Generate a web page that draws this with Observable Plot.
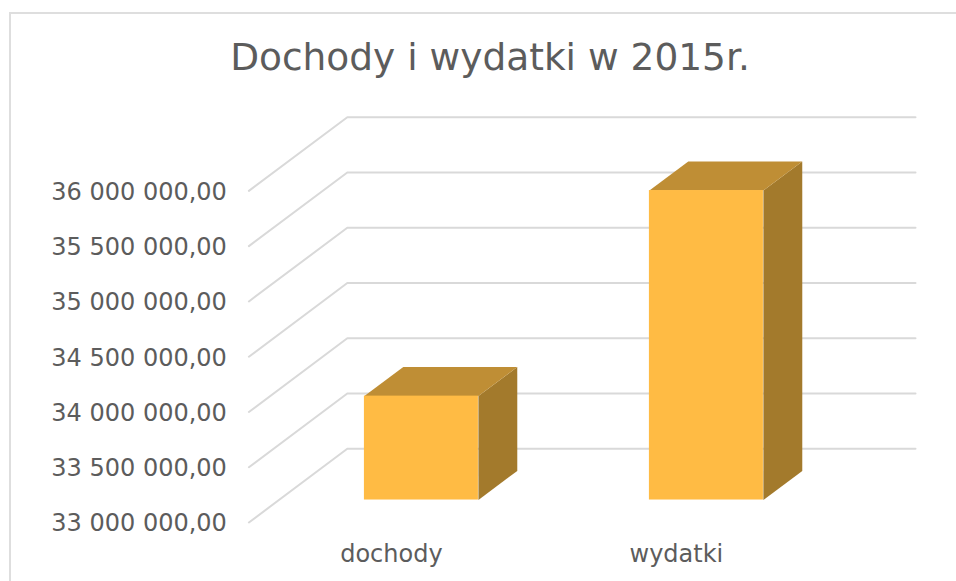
<!DOCTYPE html>
<html lang="pl">
<head>
<meta charset="utf-8">
<script src="https://cdn.jsdelivr.net/npm/d3@7"></script>
<script src="https://cdn.jsdelivr.net/npm/@observablehq/plot@0.6"></script>
<style>
  html, body { margin: 0; padding: 0; background: #fff; overflow: hidden; width: 956px; height: 581px; }
  #frame { position: absolute; left: 8.5px; top: 12px; right: 0; bottom: 0; border-top: 2px solid #dedede; border-left: 2px solid #dedede; }
  #title { position: absolute; left: 0; top: 0; width: 980px; height: 90px; text-align: center; font: 37.5px "DejaVu Sans", sans-serif; line-height: 114px; color: #5c5c5c; }
  #chart { position: absolute; left: 0; top: 90px; }
  #chart svg { display: block; }
</style>
</head>
<body>
<div id="frame"></div>
<div id="title">Dochody i wydatki w 2015r.</div>
<div id="chart"></div>
<script>
const categories = ["dochody", "wydatki"];
const values = [33940000, 35800000];
const tickValues = [33000000, 33500000, 34000000, 34500000, 35000000, 35500000, 36000000];
const tickLabels = ["33 000 000,00", "33 500 000,00", "34 000 000,00", "34 500 000,00", "35 000 000,00", "35 500 000,00", "36 000 000,00"];

// Oblique depth of the 3D box, expressed in data units of each axis
const depthX = 0.3453;
const depthY = 666800;
const gridEnd = 2.339;
const barFront = 0.305;
const barBack = 0.70;
const barLeft = 0.3;
const barRight = 0.7;
const base = tickValues[0];

const gridRows = tickValues.flatMap(v => [
  {v, x: 0, y: v},
  {v, x: depthX, y: v + depthY},
  {v, x: gridEnd, y: v + depthY}
]);

const bars = categories.map((name, i) => ({
  name,
  value: values[i],
  x1: i + barLeft + barFront * depthX,
  x2: i + barRight + barFront * depthX,
  y1: base + barFront * depthY,
  y2: values[i] + barFront * depthY
}));

const dx = (barBack - barFront) * depthX;
const dy = (barBack - barFront) * depthY;

const topFace = bars.flatMap(b => [
  {name: b.name, x: b.x1, y: b.y2},
  {name: b.name, x: b.x2, y: b.y2},
  {name: b.name, x: b.x2 + dx, y: b.y2 + dy},
  {name: b.name, x: b.x1 + dx, y: b.y2 + dy}
]);

const sideFace = bars.flatMap(b => [
  {name: b.name, x: b.x2, y: b.y1},
  {name: b.name, x: b.x2 + dx, y: b.y1 + dy},
  {name: b.name, x: b.x2 + dx, y: b.y2 + dy},
  {name: b.name, x: b.x2, y: b.y2}
]);

const chart = Plot.plot({
  width: 956,
  height: 491,
  marginLeft: 248.4,
  marginRight: 41,
  marginTop: 26.7,
  marginBottom: 59,
  style: {fontFamily: "'DejaVu Sans', sans-serif", background: "transparent", overflow: "visible"},
  x: {domain: [0, gridEnd], axis: null},
  y: {domain: [base, tickValues[tickValues.length - 1] + depthY], axis: null},
  marks: [
    Plot.line(gridRows, {x: "x", y: "y", z: "v", stroke: "#d9d9d9", strokeWidth: 2}),
    Plot.line(sideFace, {x: "x", y: "y", z: "name", fill: "#a37a2c", stroke: "none"}),
    Plot.line(topFace, {x: "x", y: "y", z: "name", fill: "#bf8e35", stroke: "none"}),
    Plot.rect(bars, {x1: "x1", x2: "x2", y1: "y1", y2: "y2", fill: "#ffbb44"}),
    Plot.axisY({
      ticks: tickValues,
      tickSize: 0,
      tickPadding: 22,
      dy: 1.3,
      fontSize: 24,
      fill: "#5c5c5c",
      label: null,
      tickFormat: v => tickLabels[tickValues.indexOf(v)]
    }),
    Plot.axisX({
      ticks: categories.map((_, i) => i + 0.5),
      tickSize: 0,
      tickPadding: 22.7,
      fontSize: 24,
      fill: "#5c5c5c",
      label: null,
      tickFormat: v => categories[v - 0.5]
    })
  ]
});
document.getElementById("chart").append(chart);
</script>
</body>
</html>
